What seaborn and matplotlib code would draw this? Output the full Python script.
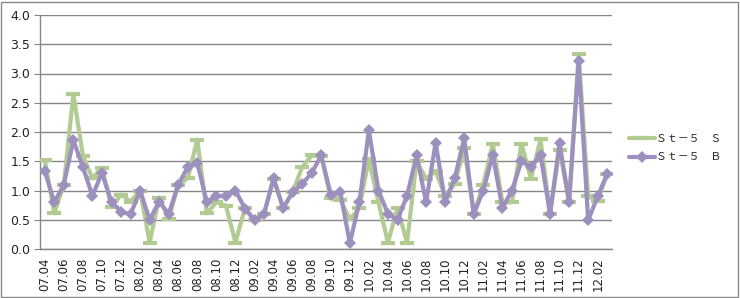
import numpy as np
import pandas as pd
import seaborn as sns
import matplotlib
matplotlib.use("Agg")
import matplotlib.pyplot as plt
from matplotlib.patches import Rectangle

months = [f"{y:02d}.{m:02d}" for y in range(7, 13) for m in range(1, 13)]
months = months[months.index("07.04"):months.index("12.03") + 1]

series_s = [1.52, 0.61, 1.1, 2.65, 1.59, 1.21, 1.39, 0.72, 0.93, 0.81,
            1.0, 0.11, 0.88, 0.51, 1.1, 1.21, 1.87, 0.61, 0.8, 0.74,
            0.11, 0.7, 0.5, 0.6, 1.2, 0.7, 0.97, 1.4, 1.6, 1.59,
            0.87, 0.84, 0.51, 0.7, 1.54, 0.8, 0.11, 0.7, 0.11, 1.5,
            1.2, 1.33, 0.91, 1.11, 1.72, 0.6, 1.1, 1.8, 0.8, 0.8,
            1.8, 1.2, 1.88, 0.6, 1.7, 0.8, 3.33, 0.9, 0.82, 1.29]
series_b = [1.33, 0.8, 1.1, 1.86, 1.4, 0.91, 1.3, 0.8, 0.64, 0.59,
            1.0, 0.5, 0.81, 0.6, 1.1, 1.4, 1.47, 0.8, 0.91, 0.9,
            1.0, 0.69, 0.49, 0.6, 1.21, 0.7, 0.97, 1.11, 1.3, 1.6,
            0.93, 0.97, 0.1, 0.8, 2.03, 1.0, 0.6, 0.5, 0.91, 1.6,
            0.8, 1.82, 0.8, 1.21, 1.89, 0.6, 1.0, 1.61, 0.7, 1.0,
            1.5, 1.4, 1.61, 0.6, 1.81, 0.8, 3.21, 0.49, 0.9, 1.29]
names = ["Ｓｔ－５　Ｓ", "Ｓｔ－５　Ｂ"]
yticks = [0.0, 0.5, 1.0, 1.5, 2.0, 2.5, 3.0, 3.5, 4.0]

green = "#B2CB92"
purple = "#9D90BE"
grid_c = "#868686"

sns.set_theme(style="white")
plt.rcParams['font.family'] = ['Noto Sans CJK JP', 'DejaVu Sans']

fig = plt.figure(figsize=(7.4, 2.98), dpi=100)
ax = fig.add_axes([40/740, 1 - 249/298, 572/740, 234/298])

idx = np.arange(len(months))
dfs = pd.DataFrame({"i": idx, "v": series_s})
dfb = pd.DataFrame({"i": idx, "v": series_b})

sns.lineplot(data=dfs, x="i", y="v", ax=ax, color=green, lw=3,
             marker="_", markersize=10, markeredgewidth=3,
             markeredgecolor=green, label=names[0], zorder=3)
sns.lineplot(data=dfb, x="i", y="v", ax=ax, color=purple, lw=3,
             marker="D", markersize=6, markeredgewidth=0,
             markerfacecolor=purple, label=names[1], zorder=4)

ax.set_xlim(-0.5, len(months) - 0.5)
ax.set_ylim(0, 4.0)
ax.set_yticks(yticks)
ax.set_yticklabels([f"{t:.1f}" for t in yticks], fontsize=9,
                   family="DejaVu Sans", color="#222222")
ax.set_xticks(idx[::2])
ax.set_xticklabels(months[::2], rotation=90, fontsize=8.5,
                   family="DejaVu Sans", color="#222222")
ax.set_xticks(np.arange(-0.5, len(months), 1), minor=True)
ax.tick_params(axis="x", which="major", length=0, pad=6)
ax.tick_params(axis="x", which="minor", length=4, width=0.8,
               color=grid_c, direction="out")
ax.tick_params(axis="y", which="major", length=4, width=0.8,
               color=grid_c, direction="out", pad=3, left=True)
ax.grid(axis="y", color=grid_c, lw=1)
ax.set_axisbelow(True)
for s in ["top", "right"]:
    ax.spines[s].set_visible(False)
for s in ["left", "bottom"]:
    ax.spines[s].set_color(grid_c)
    ax.spines[s].set_linewidth(1)
ax.set_xlabel("")
ax.set_ylabel("")

handles, labels = ax.get_legend_handles_labels()
ax.get_legend().remove()
fig.legend(handles, labels, loc="center left",
           bbox_to_anchor=(627/740, 1 - 148/298),
           frameon=False, fontsize=7.8, handlelength=2.4,
           labelspacing=0.8, handletextpad=0.1, borderpad=0.2,
           borderaxespad=0)

fig.patches.append(Rectangle((0.002, 0.004), 0.995, 0.99,
                             transform=fig.transFigure, fill=False,
                             edgecolor="#888888", lw=1))

fig.savefig("out.png", dpi=100)
